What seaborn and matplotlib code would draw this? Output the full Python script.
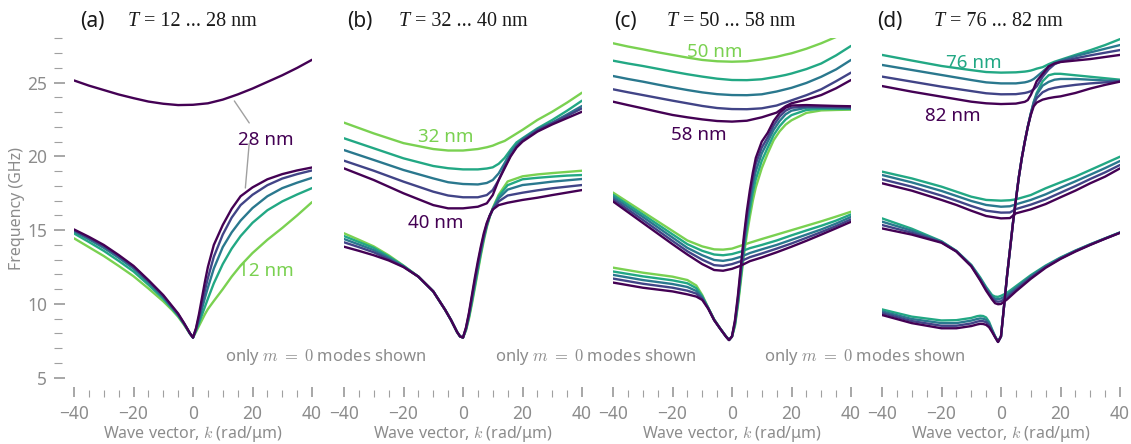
import numpy as np
import pandas as pd
import matplotlib
matplotlib.use('Agg')
import matplotlib.pyplot as plt
from matplotlib.ticker import MultipleLocator
import seaborn as sns

# ---- data (k in rad/um, f in GHz) ----
# panel (a): T = 12 ... 28 nm
ka_low = [-40, -35, -30, -25, -20, -15, -10, -7, -5, -3, -2, -1, 0,
          1, 2, 3, 4, 5, 7, 10, 13, 16, 20, 25, 30, 35, 40]
a_low = {
    12: [14.45, 13.85, 13.25, 12.58, 11.88, 11.05, 10.18, 9.58, 9.13, 8.58, 8.28, 7.97, 7.72,
         8.1, 8.5, 8.9, 9.3, 9.65, 10.2, 11.0, 11.85, 12.6, 13.45, 14.35, 15.15, 16.0, 16.9],
    16: [14.78, 14.2, 13.6, 12.92, 12.2, 11.3, 10.35, 9.68, 9.2, 8.63, 8.31, 7.98, 7.72,
         8.2, 8.7, 9.25, 9.8, 10.35, 11.4, 12.7, 13.75, 14.6, 15.5, 16.35, 16.95, 17.42, 17.85],
    20: [14.92, 14.38, 13.8, 13.13, 12.4, 11.47, 10.47, 9.75, 9.26, 8.66, 8.33, 7.99, 7.72,
         8.25, 8.9, 9.65, 10.4, 11.1, 12.4, 13.85, 14.85, 15.65, 16.5, 17.3, 17.85, 18.22, 18.55],
    24: [15.0, 14.48, 13.92, 13.25, 12.52, 11.57, 10.55, 9.8, 9.3, 8.68, 8.34, 8.0, 7.72,
         8.3, 9.1, 10.0, 10.9, 11.75, 13.2, 14.7, 15.85, 16.7, 17.4, 18.05, 18.5, 18.8, 19.05],
    28: [15.05, 14.55, 14.0, 13.32, 12.58, 11.62, 10.6, 9.85, 9.35, 8.7, 8.35, 8.0, 7.72,
         8.35, 9.3, 10.4, 11.5, 12.5, 14.0, 15.35, 16.45, 17.3, 17.9, 18.45, 18.8, 19.05, 19.25],
}
ka_up = [-40, -35, -30, -25, -20, -15, -10, -5, 0, 5, 10, 15, 20, 25, 30, 35, 40]
a_up = {
    28: [25.15, 24.8, 24.5, 24.2, 23.95, 23.72, 23.57, 23.48, 23.5, 23.6, 23.85, 24.2, 24.6, 25.05, 25.5, 26.0, 26.55],
}

# panel (b): T = 32 ... 40 nm
kb_up = [-40, -30, -20, -10, -5, 0, 5, 8, 10, 12, 14, 16, 18, 20, 25, 30, 35, 40]
b_up = {
    32: [22.29, 21.56, 20.9, 20.5, 20.4, 20.4, 20.5, 20.62, 20.73, 20.9, 21.05, 21.3, 21.55, 21.8, 22.47, 23.03, 23.65, 24.32],
    34: [21.23, 20.55, 19.87, 19.35, 19.2, 19.12, 19.12, 19.18, 19.26, 19.5, 19.9, 20.45, 20.95, 21.23, 21.9, 22.47, 23.1, 23.78],
    36: [20.43, 19.76, 19.08, 18.51, 18.25, 18.13, 18.1, 18.2, 18.4, 18.85, 19.55, 20.3, 20.77, 21.16, 21.84, 22.3, 22.85, 23.42],
    38: [19.71, 19.03, 18.29, 17.61, 17.35, 17.23, 17.23, 17.38, 17.72, 18.4, 19.3, 20.05, 20.66, 21.07, 21.75, 22.25, 22.75, 23.26],
    40: [19.19, 18.4, 17.5, 16.7, 16.48, 16.48, 16.59, 16.82, 17.38, 18.4, 19.2, 20.0, 20.6, 21.0, 21.68, 22.17, 22.6, 23.03],
}
kb_low = [-40, -35, -30, -25, -20, -15, -10, -6, -4, -2, -1, 0, 1, 2, 3, 4, 5, 6, 7, 8, 9, 10,
          12, 15, 20, 25, 30, 35, 40]
b_low = {
    32: [14.79, 14.35, 13.9, 13.3, 12.6, 11.85, 10.85, 9.6, 8.9, 8.1, 7.8, 7.72, 8.2, 9.0, 10.0, 11.1, 12.2,
         13.3, 14.3, 15.2, 15.9, 16.5, 17.4, 18.3, 18.65, 18.78, 18.87, 18.95, 19.03],
    34: [14.6, 14.2, 13.8, 13.22, 12.58, 11.85, 10.85, 9.6, 8.9, 8.1, 7.8, 7.72, 8.25, 9.1, 10.15, 11.25, 12.35,
         13.45, 14.45, 15.3, 15.95, 16.45, 17.3, 18.05, 18.45, 18.55, 18.63, 18.7, 18.74],
    36: [14.4, 14.03, 13.65, 13.12, 12.55, 11.85, 10.85, 9.6, 8.9, 8.1, 7.8, 7.72, 8.3, 9.2, 10.3, 11.45, 12.55,
         13.6, 14.55, 15.35, 15.97, 16.42, 17.15, 17.75, 18.06, 18.17, 18.29, 18.38, 18.47],
    38: [14.18, 13.85, 13.5, 13.03, 12.52, 11.85, 10.85, 9.6, 8.9, 8.1, 7.8, 7.72, 8.35, 9.3, 10.45, 11.6, 12.7,
         13.75, 14.65, 15.42, 15.98, 16.4, 16.95, 17.35, 17.54, 17.7, 17.84, 17.95, 18.06],
    40: [13.88, 13.6, 13.3, 12.95, 12.5, 11.85, 10.85, 9.6, 8.9, 8.1, 7.8, 7.72, 8.4, 9.4, 10.6, 11.8, 12.9,
         13.9, 14.8, 15.5, 16.0, 16.4, 16.7, 16.86, 17.05, 17.2, 17.38, 17.55, 17.72],
}

# panel (c): T = 50 ... 58 nm
kc_up = [-40, -35, -30, -25, -20, -15, -10, -5, 0, 5, 10, 15, 18, 20, 25, 30, 35, 40]
c_up = {
    50: [27.67, 27.45, 27.26, 27.06, 26.88, 26.7, 26.54, 26.45, 26.42, 26.45, 26.58, 26.75, 26.9, 26.99, 27.3, 27.67, 28.1, 28.6],
    52: [26.49, 26.3, 26.13, 25.94, 25.75, 25.57, 25.41, 25.27, 25.18, 25.17, 25.23, 25.4, 25.52, 25.62, 25.92, 26.3, 26.85, 27.49],
    54: [25.45, 25.25, 25.07, 24.87, 24.68, 24.5, 24.34, 24.22, 24.16, 24.15, 24.21, 24.4, 24.55, 24.65, 24.98, 25.4, 25.9, 26.54],
    56: [24.55, 24.35, 24.16, 23.97, 23.78, 23.6, 23.42, 23.28, 23.21, 23.2, 23.26, 23.45, 23.66, 23.8, 24.15, 24.55, 25.1, 25.68],
    58: [23.71, 23.48, 23.26, 23.03, 22.81, 22.65, 22.51, 22.4, 22.36, 22.42, 22.65, 22.97, 23.4, 23.6, 23.85, 24.16, 24.62, 25.18],
}
kc_mid = [-40, -30, -20, -15, -10, -6, -3, 0, 3, 6, 10, 15, 20, 25, 30, 35, 40]
c_mid = {
    50: [17.55, 16.25, 14.95, 14.3, 13.9, 13.7, 13.68, 13.75, 13.95, 14.15, 14.4, 14.7, 15.0, 15.3, 15.6, 15.92, 16.25],
    52: [17.4, 16.07, 14.72, 14.05, 13.6, 13.35, 13.3, 13.38, 13.55, 13.78, 14.0, 14.3, 14.65, 14.98, 15.3, 15.65, 16.07],
    54: [17.25, 15.9, 14.5, 13.8, 13.3, 12.98, 12.92, 13.02, 13.2, 13.45, 13.7, 14.0, 14.35, 14.7, 15.05, 15.45, 15.9],
    56: [17.1, 15.7, 14.27, 13.57, 13.0, 12.63, 12.58, 12.7, 12.9, 13.17, 13.42, 13.75, 14.1, 14.48, 14.87, 15.28, 15.73],
    58: [16.95, 15.5, 14.05, 13.35, 12.7, 12.3, 12.25, 12.38, 12.6, 12.9, 13.15, 13.5, 13.88, 14.28, 14.7, 15.13, 15.57],
}
kc_low = [-40, -30, -20, -15, -12, -10, -8, -6, -4, -2, -1, 0, 1, 2, 3, 4, 5, 6, 7, 8, 10, 12, 14, 16, 18, 20,
          25, 30, 35, 40]
c_low = {
    50: [12.46, 12.12, 11.85, 11.62, 11.25, 10.6, 9.75, 8.95, 8.35, 7.8, 7.57, 7.78, 8.5, 9.9, 11.6, 13.3, 14.7,
         15.9, 17.0, 17.9, 19.2, 20.2, 21.1, 21.7, 22.15, 22.45, 22.95, 23.12, 23.15, 23.17],
    52: [12.2, 11.87, 11.6, 11.4, 11.07, 10.52, 9.73, 8.94, 8.34, 7.79, 7.56, 7.79, 8.6, 10.05, 11.85, 13.65, 15.15,
         16.4, 17.55, 18.45, 19.7, 20.6, 21.45, 22.05, 22.5, 22.8, 23.15, 23.22, 23.22, 23.22],
    54: [11.97, 11.62, 11.35, 11.15, 10.88, 10.43, 9.72, 8.92, 8.34, 7.79, 7.56, 7.79, 8.7, 10.2, 12.1, 14.0, 15.6,
         16.9, 18.1, 19.0, 20.2, 21.0, 21.8, 22.4, 22.85, 23.1, 23.3, 23.3, 23.28, 23.27],
    56: [11.72, 11.37, 11.1, 10.9, 10.7, 10.35, 9.7, 8.91, 8.33, 7.78, 7.55, 7.8, 8.8, 10.4, 12.35, 14.3, 15.95,
         17.3, 18.5, 19.5, 20.6, 21.3, 22.1, 22.7, 23.1, 23.3, 23.38, 23.36, 23.34, 23.32],
    58: [11.45, 11.1, 10.85, 10.65, 10.5, 10.27, 9.68, 8.9, 8.33, 7.78, 7.55, 7.8, 8.9, 10.6, 12.6, 14.6, 16.3,
         17.7, 18.9, 19.9, 21.0, 21.6, 22.4, 22.95, 23.3, 23.45, 23.48, 23.45, 23.42, 23.4],
}

# panel (d): T = 76 ... 82 nm
kd_up = [-40, -30, -20, -10, -5, 0, 5, 8, 9, 10, 11, 12, 14, 16, 18, 20, 25, 30, 35, 40]
d_up = {
    76: [26.88, 26.5, 26.13, 25.85, 25.72, 25.68, 25.7, 25.75, 25.78, 25.82, 25.88, 25.95, 26.05, 26.25, 26.42, 26.55, 26.88, 27.2, 27.55, 27.95],
    78: [26.2, 25.86, 25.52, 25.18, 25.02, 24.95, 24.95, 25.02, 25.07, 25.14, 25.25, 25.41, 25.75, 26.1, 26.35, 26.5, 26.8, 27.05, 27.3, 27.55],
    80: [25.41, 25.07, 24.73, 24.43, 24.28, 24.21, 24.22, 24.3, 24.35, 24.42, 24.55, 24.75, 25.4, 25.9, 26.25, 26.42, 26.65, 26.85, 27.03, 27.21],
    82: [24.77, 24.39, 24.05, 23.71, 23.6, 23.55, 23.58, 23.7, 23.82, 24.16, 24.6, 25.1, 25.6, 26.1, 26.3, 26.4, 26.5, 26.6, 26.74, 26.88],
}
kd_mid = [-40, -30, -20, -15, -10, -5, 0, 3, 5, 10, 15, 20, 25, 30, 35, 40]
d_mid = {
    76: [18.97, 18.51, 17.95, 17.61, 17.27, 17.05, 17.0, 17.03, 17.09, 17.38, 17.84, 18.24, 18.63, 19.08, 19.53, 19.98],
    78: [18.74, 18.24, 17.66, 17.32, 16.98, 16.71, 16.59, 16.62, 16.75, 17.05, 17.43, 17.88, 18.31, 18.76, 19.21, 19.69],
    80: [18.45, 17.95, 17.34, 17.0, 16.64, 16.32, 16.19, 16.2, 16.43, 16.73, 17.09, 17.54, 17.99, 18.47, 18.92, 19.42],
    82: [18.18, 17.68, 17.05, 16.71, 16.32, 15.96, 15.8, 15.82, 16.14, 16.41, 16.77, 17.23, 17.68, 18.18, 18.63, 19.19],
}
kd_v = [-40, -30, -20, -15, -10, -7, -5, -3, -2, -1, 0, 2, 5, 10, 15, 20, 25, 30, 35, 40]
d_v = {
    76: [15.8, 15.1, 14.25, 13.6, 12.65, 11.8, 11.15, 10.6, 10.5, 10.48, 10.55, 10.75, 11.2, 11.95, 12.6, 13.15, 13.62, 14.05, 14.45, 14.85],
    78: [15.58, 14.97, 14.22, 13.58, 12.62, 11.73, 11.07, 10.5, 10.35, 10.32, 10.37, 10.6, 11.08, 11.87, 12.55, 13.12, 13.6, 14.03, 14.44, 14.84],
    80: [15.35, 14.83, 14.18, 13.57, 12.58, 11.66, 10.98, 10.4, 10.2, 10.15, 10.18, 10.45, 10.96, 11.78, 12.5, 13.08, 13.58, 14.02, 14.43, 14.83],
    82: [15.12, 14.7, 14.15, 13.55, 12.55, 11.6, 10.9, 10.3, 10.05, 9.98, 10.0, 10.3, 10.85, 11.7, 12.45, 13.05, 13.55, 14.0, 14.42, 14.82],
}
kd_st = [-40, -30, -20, -15, -10, -8, -7, -6, -5, -4, -3, -2, -1, 0, 1, 2, 3, 4, 5, 6, 7, 8, 9, 10, 11, 12,
         14, 16, 18, 20, 25, 30, 35, 40]
d_st = {
    76: [9.63, 9.14, 8.88, 8.9, 9.05, 9.17, 9.2, 9.18, 9.08, 8.78, 8.28, 7.82, 7.45, 7.8, 9.8, 11.85, 13.65, 15.45,
         17.05, 18.6, 19.9, 21.0, 22.0, 22.9, 23.7, 24.3, 25.1, 25.5, 25.6, 25.6, 25.5, 25.4, 25.3, 25.2],
    78: [9.5, 8.98, 8.7, 8.7, 8.87, 8.98, 9.02, 9.0, 8.92, 8.66, 8.22, 7.79, 7.44, 7.8, 9.8, 11.85, 13.65, 15.45,
         17.05, 18.6, 19.9, 21.0, 22.0, 22.9, 23.65, 24.2, 24.8, 25.05, 25.2, 25.25, 25.25, 25.2, 25.15, 25.12],
    80: [9.38, 8.84, 8.52, 8.52, 8.68, 8.8, 8.84, 8.83, 8.76, 8.55, 8.16, 7.77, 7.43, 7.8, 9.8, 11.85, 13.65, 15.45,
         17.05, 18.6, 19.9, 21.0, 22.0, 22.85, 23.55, 23.95, 24.35, 24.55, 24.65, 24.72, 24.85, 24.95, 25.02, 25.1],
    82: [9.25, 8.7, 8.35, 8.35, 8.5, 8.61, 8.65, 8.64, 8.58, 8.42, 8.1, 7.75, 7.42, 7.8, 9.8, 11.85, 13.65, 15.45,
         17.05, 18.6, 19.9, 21.0, 22.0, 22.8, 23.4, 23.65, 23.85, 23.95, 24.02, 24.07, 24.3, 24.6, 24.85, 25.07],
}

titles = ['(a)', '(b)', '(c)', '(d)']
ranges = [' = 12 ... 28 nm', ' = 32 ... 40 nm', ' = 50 ... 58 nm', ' = 76 ... 82 nm']

GREEN, TEAL, BTEAL, BLUE, DARK = '#7ad151', '#22a884', '#2a788e', '#414487', '#440154'
pal = {12: GREEN, 16: TEAL, 20: BTEAL, 24: BLUE, 28: DARK,
       32: GREEN, 34: TEAL, 36: BTEAL, 38: BLUE, 40: DARK,
       50: GREEN, 52: TEAL, 54: BTEAL, 56: BLUE, 58: DARK,
       76: TEAL, 78: BTEAL, 80: BLUE, 82: DARK}

# ---- long table ----
rows = []
branches = [
    (0, 'up', ka_up, a_up), (0, 'low', ka_low, a_low),
    (1, 'up', kb_up, b_up), (1, 'low', kb_low, b_low),
    (2, 'up', kc_up, c_up), (2, 'mid', kc_mid, c_mid), (2, 'low', kc_low, c_low),
    (3, 'up', kd_up, d_up), (3, 'mid', kd_mid, d_mid), (3, 'v', kd_v, d_v), (3, 'st', kd_st, d_st),
]
for panel, name, ks, curves in branches:
    for T, fs in curves.items():
        if len(fs) != len(ks):
            raise ValueError(f'{panel} {name} {T}: {len(fs)} vs {len(ks)}')
        for k, f in zip(ks, fs):
            rows.append((panel, T, f'{name}{T}', k, f))
df = pd.DataFrame(rows, columns=['panel', 'T', 'unit', 'k', 'f'])

# ---- style ----
sns.set_style('white')
plt.rcParams['font.family'] = ['Noto Sans', 'DejaVu Sans']
plt.rcParams['mathtext.fontset'] = 'cm'
GREY = '#8c8c8c'
TICK = '#a0a0a0'
SERIF = 'Liberation Serif'

W, H = 1131, 444
fig = plt.figure(figsize=(W / 100, H / 100), dpi=100)
lefts = [74, 344, 613, 882]
axes = []
for i, lx in enumerate(lefts):
    ax = fig.add_axes([lx / W, (H - 377.7) / H, 238 / W, 339.3 / H], facecolor='none')
    sub = df[df.panel == i]
    sns.lineplot(data=sub, x='k', y='f', hue='T', units='unit', estimator=None,
                 sort=False, palette=pal, legend=False, linewidth=1.7, ax=ax)
    ax.set_xlim(-40, 40)
    ax.set_ylim(5, 28)
    ax.xaxis.set_major_locator(MultipleLocator(20))
    ax.xaxis.set_minor_locator(MultipleLocator(5))
    for s in ['top', 'right', 'left']:
        ax.spines[s].set_visible(False)
    ax.spines['bottom'].set_position(('outward', 13.9))
    ax.spines['bottom'].set_visible(False)
    ax.tick_params(axis='x', which='major', bottom=True, direction='in', length=7.2,
                   width=1.3, color=TICK, labelcolor=GREY, labelsize=12.5, pad=5.5)
    ax.tick_params(axis='x', which='minor', bottom=True, direction='in', length=5,
                   width=0.8, color=TICK)
    ax.set_xlabel('Wave vector, $k$ (rad/μm)', color=GREY, fontsize=11.5)
    ax.xaxis.set_label_coords(0.5, -0.135)
    ax.set_ylabel('')
    if i == 0:
        ax.yaxis.set_major_locator(MultipleLocator(5))
        ax.yaxis.set_minor_locator(MultipleLocator(1))
        ax.spines['left'].set_position(('outward', 14.4))
        ax.tick_params(axis='y', which='major', left=True, direction='in', length=8,
                       width=1.3, color=TICK, labelcolor=GREY, labelsize=12.5, pad=5)
        ax.tick_params(axis='y', which='minor', left=True, direction='in', length=5.8,
                       width=0.8, color=TICK)
    else:
        ax.tick_params(axis='y', which='both', left=False, labelleft=False)
    if i < 3:
        ax.text(44.5, 6.4, r'only $m\;=\;0$ modes shown', ha='center', va='center',
                color=GREY, fontsize=12, clip_on=False)
    axes.append(ax)

fig.text(17 / W, 1 - 208 / H, 'Frequency (GHz)', rotation=90, ha='center', va='center',
         color=GREY, fontsize=11.5)

# panel headings
lab_x = [80, 346.7, 614, 877]
t_x = [127.5, 398.3, 666.7, 934]
for lx, tx, lab, rng in zip(lab_x, t_x, titles, ranges):
    fig.text(lx / W, 1 - 26.5 / H, lab, ha='left', va='baseline', fontsize=15, color='#1a1a1a')
    t = fig.text(tx / W, 1 - 26.5 / H, 'T', ha='left', va='baseline', fontsize=14.5,
                 family=SERIF, style='italic', color='#1a1a1a')
    axes[0].annotate(rng, xy=(1, 0), xycoords=t, ha='left', va='bottom', fontsize=14.5,
                     family=SERIF, color='#1a1a1a', annotation_clip=False)

# curve labels
ax_a, ax_b, ax_c, ax_d = axes
LAB = 13.5
ax_a.text(24.6, 21.1, '28 nm', color=DARK, fontsize=LAB, ha='center', va='center')
ax_a.text(24.5, 12.25, '12 nm', color=GREEN, fontsize=LAB, ha='center', va='center')
line_kw = dict(arrowstyle='-', color='#a0a0a0', lw=1, shrinkA=0, shrinkB=0)
ax_a.annotate('', xy=(13.9, 23.76), xytext=(18.9, 22.27), arrowprops=line_kw)
ax_a.annotate('', xy=(17.6, 17.86), xytext=(18.9, 20.9), arrowprops=line_kw)
ax_b.text(-5.9, 21.32, '32 nm', color=GREEN, fontsize=LAB, ha='center', va='center')
ax_b.text(-9.3, 15.49, '40 nm', color=DARK, fontsize=LAB, ha='center', va='center')
ax_c.text(-5.9, 27.1, '50 nm', color=GREEN, fontsize=LAB, ha='center', va='center')
ax_c.text(-11, 21.45, '58 nm', color=DARK, fontsize=LAB, ha='center', va='center')
ax_d.text(-9.0, 26.3, '76 nm', color=TEAL, fontsize=LAB, ha='center', va='center')
ax_d.text(-16.3, 22.74, '82 nm', color=DARK, fontsize=LAB, ha='center', va='center')

fig.savefig('out.png', dpi=100)
